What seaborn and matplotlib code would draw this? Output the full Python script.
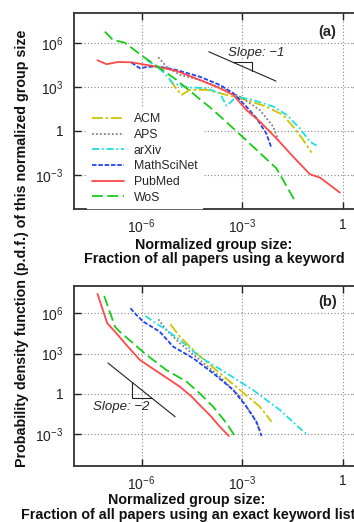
import numpy as np
import pandas as pd
import seaborn as sns
import matplotlib as mpl
import matplotlib.pyplot as plt

sns.set_style("ticks")
mpl.rcParams['font.family'] = ['Liberation Sans', 'DejaVu Sans']
mpl.rcParams['mathtext.fontset'] = 'custom'
mpl.rcParams['mathtext.rm'] = 'Liberation Sans'
mpl.rcParams['mathtext.it'] = 'Liberation Sans:italic'
mpl.rcParams['mathtext.bf'] = 'Liberation Sans:bold'

sources = ["ACM", "APS", "arXiv", "MathSciNet", "PubMed", "WoS"]
colors = {"ACM": "#cfc400", "APS": "#808080", "arXiv": "#22dede",
          "MathSciNet": "#2244ee", "PubMed": "#ff4848", "WoS": "#18cc18"}
dashes = {"ACM": (6, 1.5, 1.5, 1.5), "APS": (1, 1.2), "arXiv": (4, 1.5, 1, 1.5),
          "MathSciNet": (2.5, 1), "PubMed": "", "WoS": (6, 2.5)}

# panel (a): log10 of group size / log10 of pdf
acm_a_x = [-5.16, -5.01, -4.81, -4.56, -4.07, -3.47, -2.88, -2.29, -1.79, -1.49, -1.19, -0.94]
acm_a_y = [3.48, 3.02, 2.46, 2.80, 2.80, 2.46, 2.11, 1.66, 1.09, 0.29, -0.61, -1.48]
aps_a_x = [-5.50, -5.26, -4.86, -4.27, -3.67, -3.07, -2.48, -2.08, -1.93]
aps_a_y = [5.02, 4.38, 3.82, 3.48, 2.98, 2.34, 1.43, 0.29, -0.61]
arxiv_a_x = [-5.85, -5.55, -5.36, -5.06, -4.66, -4.07, -3.67, -3.47, -3.17, -2.68, -2.08, -1.68, -1.29, -0.99, -0.79]
arxiv_a_y = [4.84, 4.38, 4.04, 3.25, 2.98, 2.91, 2.57, 1.71, 2.34, 2.11, 1.66, 1.09, 0.18, -0.73, -1.00]
msn_a_x = [-6.30, -6.05, -5.80, -5.46, -4.97, -4.27, -3.67, -3.27, -2.88, -2.58, -2.29, -2.13]
msn_a_y = [4.66, 4.27, 4.38, 4.38, 4.16, 3.70, 3.14, 2.57, 1.66, 0.87, -0.16, -1.18]
pubmed_a_x = [-7.31, -7.04, -6.70, -6.30, -5.55, -4.96, -4.27, -3.67, -3.27, -2.88, -2.48, -1.99, -1.49, -0.99, -0.69, -0.40, -0.10]
pubmed_a_y = [4.82, 4.55, 4.70, 4.68, 4.38, 4.09, 3.48, 2.91, 2.46, 1.43, 0.64, -0.50, -1.75, -2.95, -3.18, -3.68, -4.20]
wos_a_x = [-7.09, -6.85, -6.50, -6.00, -5.00, -3.87, -3.27, -1.99, -1.79, -1.44]
wos_a_y = [6.77, 6.20, 6.02, 5.15, 3.55, 1.43, 0.18, -2.54, -3.34, -4.75]

# panel (b)
acm_b_x = [-5.14, -4.86, -4.36, -3.67, -3.07, -2.48, -2.13]
acm_b_y = [5.18, 4.26, 3.02, 1.54, 0.29, -0.95, -2.07]
aps_b_x = [-5.50, -5.26, -4.86, -4.27, -3.67, -3.07, -2.68, -2.48]
aps_b_y = [5.55, 4.76, 3.77, 2.53, 1.28, -0.20, -1.69, -2.68]
arxiv_b_x = [-5.88, -5.65, -5.26, -4.86, -4.27, -3.47, -2.68, -1.88, -1.29, -1.09]
arxiv_b_y = [5.80, 5.38, 4.76, 4.01, 2.77, 1.54, 0.29, -1.20, -2.56, -2.98]
msn_b_x = [-6.33, -6.15, -5.95, -5.46, -5.06, -4.46, -3.87, -3.27, -2.88, -2.58, -2.43]
msn_b_y = [6.37, 5.87, 5.38, 4.63, 3.52, 2.65, 1.54, 0.29, -0.95, -2.07, -3.13]
pubmed_b_x = [-7.31, -7.02, -6.79, -6.45, -6.05, -5.46, -4.86, -4.51, -4.27, -3.97, -3.67, -3.40]
pubmed_b_y = [7.44, 5.26, 4.63, 3.64, 2.53, 1.54, 0.54, -0.20, -0.82, -1.57, -2.44, -3.13]
wos_b_x = [-7.11, -6.79, -6.65, -6.25, -5.85, -5.26, -4.66, -4.27, -3.87, -3.47, -3.20]
wos_b_y = [7.29, 5.00, 4.63, 3.77, 2.90, 1.78, 0.91, 0.05, -0.95, -2.18, -3.23]

# slope guides (log10 coords)
slope1_x = [-4.0, -2.0]
slope1_y = [5.4, 3.4]
slope2_x = [-7.0, -5.0]
slope2_y = [2.3, -1.7]

x_ticks = [1e-6, 1e-3, 1]
x_ticklabels = [r"$10^{-6}$", r"$10^{-3}$", "1"]
y_ticks = [1e-3, 1, 1e3, 1e6]
y_ticklabels = [r"$10^{-3}$", "1", r"$10^{3}$", r"$10^{6}$"]


def frame(pairs):
    rows = []
    for name, (lx, ly) in zip(sources, pairs):
        rows.append(pd.DataFrame({"size": 10.0 ** np.array(lx),
                                  "pdf": 10.0 ** np.array(ly), "source": name}))
    return pd.concat(rows, ignore_index=True)


df_a = frame([(acm_a_x, acm_a_y), (aps_a_x, aps_a_y), (arxiv_a_x, arxiv_a_y),
              (msn_a_x, msn_a_y), (pubmed_a_x, pubmed_a_y), (wos_a_x, wos_a_y)])
df_b = frame([(acm_b_x, acm_b_y), (aps_b_x, aps_b_y), (arxiv_b_x, arxiv_b_y),
              (msn_b_x, msn_b_y), (pubmed_b_x, pubmed_b_y), (wos_b_x, wos_b_y)])

W, H = 354, 522
fig = plt.figure(figsize=(W / 100, H / 100), dpi=100)
ax_a = fig.add_axes([74.3 / W, 1 - 209.3 / H, (360 - 74.3) / W, (209.3 - 13.3) / H])
ax_b = fig.add_axes([74.3 / W, 1 - 465.7 / H, (360 - 74.3) / W, (465.7 - 285.7) / H])


def style_axes(ax, ylo, yhi):
    ax.set_xscale("log")
    ax.set_yscale("log")
    ax.set_xlim(1e-8, 10 ** 0.5)
    ax.set_ylim(10 ** ylo, 10 ** yhi)
    ax.minorticks_off()
    ax.set_xticks(x_ticks)
    ax.set_xticklabels(x_ticklabels)
    ax.set_yticks(y_ticks)
    ax.set_yticklabels(y_ticklabels)
    ax.tick_params(direction="in", top=True, right=True, length=5, width=1,
                   labelsize=10, colors="#222222")
    ax.tick_params(axis="y", pad=8)
    ax.tick_params(axis="x", pad=6)
    ax.grid(True, linestyle=(0, (1, 2)), color="#888888", linewidth=0.8)
    ax.set_axisbelow(True)
    for s in ax.spines.values():
        s.set_color("#333333")
        s.set_linewidth(1.3)
    ax.set_xlabel("")
    ax.set_ylabel("")


for ax, df in [(ax_a, df_a), (ax_b, df_b)]:
    sns.lineplot(data=df, x="size", y="pdf", hue="source", style="source",
                 palette=colors, dashes=dashes, estimator=None, sort=False,
                 linewidth=1.3, ax=ax, legend=(ax is ax_a))

style_axes(ax_a, -5.34, 8.02)
style_axes(ax_b, -5.34, 8.05)

handles, labels = ax_a.get_legend_handles_labels()
leg = ax_a.legend(handles, labels, loc="upper left", bbox_to_anchor=(0.045, 0.515),
                  borderaxespad=0, borderpad=0.4, fontsize=8.8, handlelength=2.6,
                  handletextpad=0.8, labelspacing=0.3, frameon=True, fancybox=False,
                  edgecolor="white", facecolor="white", framealpha=1)
for h in leg.get_lines():
    h.set_linewidth(1.3)

# slope guides
ax_a.plot(10.0 ** np.array(slope1_x), 10.0 ** np.array(slope1_y), color="#222222", lw=0.8)
tx1, tx2 = -3.28, -2.72
ly1 = slope1_y[0] - (tx1 - slope1_x[0])
ly2 = slope1_y[0] - (tx2 - slope1_x[0])
ax_a.plot([10 ** tx1, 10 ** tx2, 10 ** tx2], [10 ** ly1, 10 ** ly1, 10 ** ly2], color="#222222", lw=0.8)
ax_a.text(10 ** -2.6, 10 ** 5.32, "Slope: \u22121", style="italic", fontsize=9.5,
          ha="center", va="center")

ax_b.plot(10.0 ** np.array(slope2_x), 10.0 ** np.array(slope2_y), color="#222222", lw=0.8)
bx1, bx2 = -6.29, -5.69
by1 = slope2_y[0] - 2 * (bx1 - slope2_x[0])
by2 = slope2_y[0] - 2 * (bx2 - slope2_x[0])
ax_b.plot([10 ** bx1, 10 ** bx1, 10 ** bx2], [10 ** by1, 10 ** by2, 10 ** by2], color="#222222", lw=0.8)
ax_b.text(10 ** -6.61, 10 ** -0.97, "Slope: \u22122", style="italic", fontsize=9.5,
          ha="center", va="center")

ax_a.text(0.885, 0.905, "(a)", transform=ax_a.transAxes, fontsize=10.5,
          fontweight="bold", ha="center", va="center")
ax_b.text(0.885, 0.909, "(b)", transform=ax_b.transAxes, fontsize=10.5,
          fontweight="bold", ha="center", va="center")

lab = dict(fontsize=10.3, fontweight="bold", ha="center", va="center", color="#111111")
fig.text(214 / W, 1 - 245 / H, "Normalized group size:", **lab)
fig.text(214 / W, 1 - 259 / H, "Fraction of all papers using a keyword", **lab)
fig.text(187 / W, 1 - 500 / H, "Normalized group size:", **lab)
fig.text(188 / W, 1 - 514.5 / H, "Fraction of all papers using an exact keyword list", **lab)
fig.text(22 / W, 1 - 248 / H,
         "Probability density function (p.d.f.) of this normalized group size",
         rotation=90, **lab)

fig.savefig("out.png", dpi=100)
